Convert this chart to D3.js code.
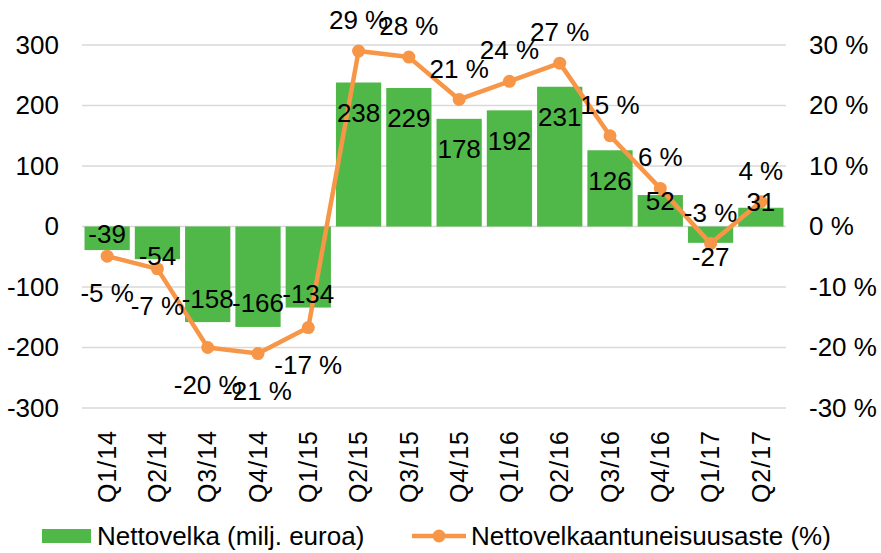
<!DOCTYPE html>
<html>
<head>
<meta charset="utf-8">
<script src="https://cdn.jsdelivr.net/npm/d3@7"></script>
<style>
  html, body { margin: 0; padding: 0; background: #fff; }
  svg text { font-family: "Liberation Sans", Arial, sans-serif; fill: #000; }
</style>
</head>
<body>
<div id="chart"></div>
<script>
'use strict';

var categories = ['Q1/14', 'Q2/14', 'Q3/14', 'Q4/14', 'Q1/15', 'Q2/15', 'Q3/15',
                  'Q4/15', 'Q1/16', 'Q2/16', 'Q3/16', 'Q4/16', 'Q1/17', 'Q2/17'];
// nettovelka, milj. euroa
var netDebt = [-39, -54, -158, -166, -134, 238, 229, 178, 192, 231, 126, 52, -27, 31];
// nettovelkaantuneisuusaste, %
var gearing = [-4.9, -7.0, -20.0, -21.0, -16.7, 29.0, 28.0, 21.0, 24.0, 27.0, 15.0, 6.3, -2.8, 4.1];
var leftTicks = [-300, -200, -100, 0, 100, 200, 300];
var rightTicks = [-30, -20, -10, 0, 10, 20, 30];
var seriesNames = ['Nettovelka (milj. euroa)', 'Nettovelkaantuneisuusaste (%)'];

// label nudges (px) as placed in the original
var barLabelDy = [-16, -3, -23, -24, -14, 30, 30, 30, 31, 30, 31, 6, 14, -6];
var pctLabelBelow = [true, true, true, true, true, false, false, false, false, false, false, false, false, false];

var width = 881, height = 553,
    green = '#50b848', orange = '#f79646', grid = '#d9d9d9',
    fSize = 26;

// plain hyphen for negatives, like the original
var fmt = d3.formatLocale({decimal: '.', thousands: ' ', grouping: [3], currency: ['', ''], minus: '-'}).format('.0f');

var svg = d3.select('#chart').append('svg')
    .attr('width', width)
    .attr('height', height);

var x = d3.scaleBand().domain(categories).range([82, 786]).paddingInner(0.1).paddingOuter(0.05),
    yL = d3.scaleLinear().domain([-300, 300]).range([408, 45]),
    yR = d3.scaleLinear().domain([-30, 30]).range([408, 45]),
    cx = function(d, i) { return x(categories[i]) + x.bandwidth() / 2; };

// ================ gridlines
svg.append('g').selectAll('line').data(leftTicks).enter().append('line')
    .attr('x1', 82).attr('x2', 786)
    .attr('y1', function(d) { return yL(d); })
    .attr('y2', function(d) { return yL(d); })
    .attr('stroke', grid)
    .attr('stroke-width', 1.5);

// ================ axes labels
var leftAxis = svg.append('g').attr('transform', 'translate(68,0)')
    .call(d3.axisLeft(yL).tickValues(leftTicks).tickSize(0).tickPadding(9).tickFormat(fmt));
var rightAxis = svg.append('g').attr('transform', 'translate(800,0)')
    .call(d3.axisRight(yR).tickValues(rightTicks).tickSize(0).tickPadding(9)
        .tickFormat(function(d) { return fmt(d) + ' %'; }));
var bottomAxis = svg.append('g').attr('transform', 'translate(0,420)')
    .call(d3.axisBottom(x).tickSize(0).tickPadding(0));
[leftAxis, rightAxis, bottomAxis].forEach(function(a) {
    a.select('.domain').remove();
    a.selectAll('text').attr('font-size', fSize + 'px')
        .attr('font-family', '"Liberation Sans", Arial, sans-serif').attr('fill', '#000');
});
bottomAxis.selectAll('text')
    .attr('font-size', '25px')
    .attr('transform', 'rotate(-90)')
    .attr('text-anchor', 'end')
    .attr('x', -10)
    .attr('y', 0)
    .attr('dy', '0.35em')
    .attr('letter-spacing', '1px');

// ================ bars
svg.append('g').selectAll('rect').data(netDebt).enter().append('rect')
    .attr('x', function(d, i) { return x(categories[i]); })
    .attr('width', x.bandwidth())
    .attr('y', function(d) { return yL(Math.max(0, d)); })
    .attr('height', function(d) { return Math.abs(yL(d) - yL(0)); })
    .attr('fill', green);

// ================ line + markers
var line = d3.line()
    .x(function(d, i) { return cx(d, i); })
    .y(function(d) { return yR(d); });
svg.append('path')
    .datum(gearing)
    .attr('d', line)
    .attr('fill', 'none')
    .attr('stroke', orange)
    .attr('stroke-width', 4.5)
    .attr('stroke-linejoin', 'round');
svg.append('g').selectAll('circle').data(gearing).enter().append('circle')
    .attr('cx', cx)
    .attr('cy', function(d) { return yR(d); })
    .attr('r', 6.5)
    .attr('fill', orange);

// ================ data labels
svg.append('g').selectAll('text').data(netDebt).enter().append('text')
    .attr('text-anchor', 'middle')
    .attr('font-size', fSize + 'px')
    .attr('x', cx)
    .attr('y', function(d, i) { return yL(d) + barLabelDy[i]; })
    .attr('dy', '0.35em')
    .text(function(d) { return fmt(d); });
svg.append('g').selectAll('text').data(gearing).enter().append('text')
    .attr('text-anchor', 'middle')
    .attr('font-size', fSize + 'px')
    .attr('x', cx)
    .attr('y', function(d, i) { return yR(d) + (pctLabelBelow[i] ? 37 : -31); })
    .attr('dy', '0.35em')
    .text(function(d) { return fmt(d) + ' %'; });

// ================ legend
var legend = svg.append('g').attr('transform', 'translate(0,536)');
legend.append('rect').attr('x', 42).attr('y', -7).attr('width', 49).attr('height', 14).attr('fill', green);
legend.append('text').attr('x', 97).attr('dy', '0.35em').attr('font-size', fSize + 'px').text(seriesNames[0]);
legend.append('line').attr('x1', 412).attr('x2', 466).attr('stroke', orange).attr('stroke-width', 4.5);
legend.append('circle').attr('cx', 439).attr('r', 6.5).attr('fill', orange);
legend.append('text').attr('x', 471).attr('dy', '0.35em').attr('font-size', fSize + 'px').text(seriesNames[1]);
</script>
</body>
</html>
